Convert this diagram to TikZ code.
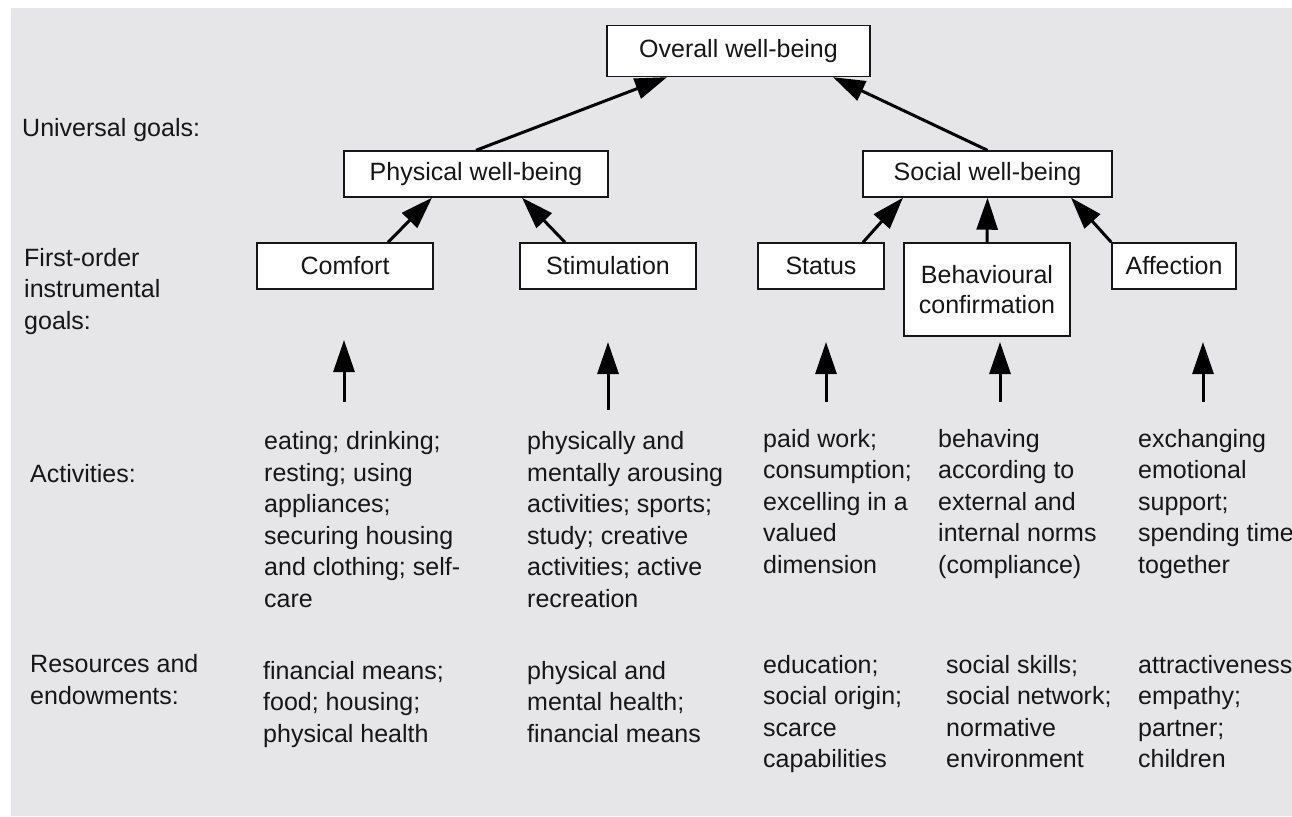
\documentclass[tikz,border=0pt]{standalone}
\usepackage{fontspec}
\setmainfont{Liberation Sans}
\usetikzlibrary{arrows.meta}
\definecolor{panel}{RGB}{230,230,232}
\definecolor{ink}{RGB}{22,22,22}

\begin{document}
\begin{tikzpicture}[x=1pt,y=-1pt,
  every node/.style={font=\fontsize{25}{31.5}\selectfont, text=ink},
  goalbox/.style={draw=ink, line width=1.4pt, fill=white, inner sep=0pt, align=center},
  % multi-line labels: the base anchor sits on the last line
  lbl/.style={inner sep=0pt, anchor=base west, align=left},
  uparrow/.style={-{Triangle[length=32pt,width=21pt]}, line width=3pt, draw=black},
]
\useasboundingbox (0,0) rectangle (1292,816);
\clip (0,0) rectangle (1292,816);
\fill[panel] (11,8) rectangle (1292,816);

% goal hierarchy
\node[goalbox, minimum width=263pt, minimum height=51pt] (overall) at (738.5,51) {Overall well-being};
\node[goalbox, minimum width=264pt, minimum height=46pt] (phys) at (476,174) {Physical well-being};
\node[goalbox, minimum width=249pt, minimum height=46pt] (social) at (987.5,174) {Social well-being};
\node[goalbox, minimum width=176pt, minimum height=46pt] (comfort) at (345,266) {Comfort};
\node[goalbox, minimum width=176pt, minimum height=46pt] (stim) at (608,266) {Stimulation};
\node[goalbox, minimum width=126pt, minimum height=46pt] (status) at (821,266) {Status};
\node[goalbox, minimum width=166pt, minimum height=93pt, font=\fontsize{25}{30}\selectfont] (behav) at (987,289.5) {Behavioural\\confirmation};
\node[goalbox, minimum width=124pt, minimum height=46pt] (affect) at (1174,266) {Affection};

% row labels
\node[lbl] (lUniv) at (22,136) {Universal goals:};
\node[lbl] (lFirst) at (24,329) {First-order\\instrumental\\goals:};
\node[lbl] (lAct) at (30,482) {Activities:};
\node[lbl] (lRes) at (30,704) {Resources and\\endowments:};

% activities
\node[lbl] (aComfort) at (264,607) {eating; drinking;\\resting; using\\appliances;\\securing housing\\and clothing; self-\\care};
\node[lbl] (aStim) at (527,607) {physically and\\mentally arousing\\activities; sports;\\study; creative\\activities; active\\recreation};
\node[lbl] (aStatus) at (763,573) {paid work;\\consumption;\\excelling in a\\valued\\dimension};
\node[lbl] (aBehav) at (938,573) {behaving\\according to\\external and\\internal norms\\(compliance)};
\node[lbl] (aAffect) at (1138,573) {exchanging\\emotional\\support;\\spending time\\together};

% resources and endowments
\node[lbl] (rComfort) at (263,742) {financial means;\\food; housing;\\physical health};
\node[lbl] (rStim) at (527,742) {physical and\\mental health;\\financial means};
\node[lbl] (rStatus) at (763,767.5) {education;\\social origin;\\scarce\\capabilities};
\node[lbl] (rBehav) at (946,767.5) {social skills;\\social network;\\normative\\environment};
\node[lbl] (rAffect) at (1138,767.5) {attractiveness;\\empathy;\\partner;\\children};

% links between goal levels
\draw[uparrow] (phys.north) -- ([xshift=-71.5pt]overall.south);
\draw[uparrow] (social.north) -- ([xshift=94.5pt]overall.south);
\draw[uparrow] ([xshift=43pt]comfort.north) -- ([xshift=-44pt]phys.south);
\draw[uparrow] ([xshift=-43pt]stim.north) -- ([xshift=46pt]phys.south);
\draw[uparrow] ([xshift=42pt]status.north) -- ([xshift=-84.5pt]social.south);
\draw[uparrow] (behav.north) -- (social.south);
\draw[uparrow] (affect.north west) -- ([xshift=83.5pt]social.south);

% activities feed the first-order goals
\coordinate (tComfort) at (344,402);
\coordinate (hComfort) at (344,340);
\coordinate (tStim) at (608,410);
\coordinate (hStim) at (608,342);
\coordinate (tStatus) at (826,402);
\coordinate (hStatus) at (826,342);
\coordinate (tBehav) at (1000,402);
\coordinate (hBehav) at (1000,342);
\coordinate (tAffect) at (1203,402);
\coordinate (hAffect) at (1203,342);
\draw[uparrow] (tComfort) -- (hComfort);
\draw[uparrow] (tStim) -- (hStim);
\draw[uparrow] (tStatus) -- (hStatus);
\draw[uparrow] (tBehav) -- (hBehav);
\draw[uparrow] (tAffect) -- (hAffect);
\end{tikzpicture}
\end{document}
